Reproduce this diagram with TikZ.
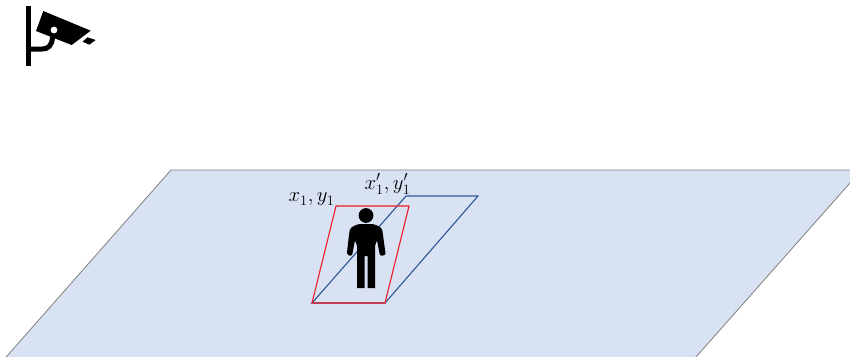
\documentclass[tikz,border=0pt]{standalone}
\usepackage{amsmath}
\usepackage{tikz}
\definecolor{ground}{HTML}{D9E2F3}
\definecolor{edge}{HTML}{7F7F7F}
\definecolor{boxred}{HTML}{EE1C25}
\definecolor{boxblue}{HTML}{2F5597}

\begin{document}
\begin{tikzpicture}[x=1pt,y=-1pt,
 plane/.style={fill=ground,draw=edge,line width=.8pt},
 quad/.style={line width=1.1pt,line join=miter},
 lab/.style={inner sep=0pt,font=\fontsize{22}{24}\selectfont},
 solid black/.style={fill=black,draw=none}]
 \useasboundingbox (0,0) rectangle (850,356);
 \clip (0,0) rectangle (850,356);
 \draw[plane] (171,170)--(861.5,170)--(688,366)--(-1.8,366)--cycle;
 \draw[quad,draw=boxblue] (312,303)--(385,303)--(478,196)--(406,196)--cycle;
 \draw[quad,draw=boxred] (336,206)--(409,206)--(385,303)--(312,303)--cycle;
 \node[lab] (lower) at (311.5,199.5) {$x_1,y_1$};
 \node[lab] (upper) at (387.5,184) {$x_1',y_1'$};
 \fill[solid black] (366,215.5) circle (7.4);
 \fill[solid black] (357,288)--(357,246) [rounded corners=2pt] --(355,240)--(352,256)
 --(346.7,255)--(349,235)--(350,228)--(358,224)--(374,224)--(382,228)--(383,235)--(385.7,255)
 --(380,256)--(377,240)[sharp corners]--(375,246)--(375,288)--(367.5,288)--(367.5,256)--(364.5,256)
 --(364.5,288)--cycle;
 \fill[solid black] (26,6) rectangle (31,66);
 \draw[line width=5pt] (29,49)--(42,49) .. controls (48,49) and (52,46) .. (52.5,37);
 \fill[solid black] (43.3,11)--(90.7,30.7)--(71.7,45)--(36,31)--cycle;
 \fill[white] (54,30) circle (3.4);
 \fill[solid black] (87.3,37.3)--(95.7,40)--(89.3,44.7)--(82.7,41.7)--cycle;
\end{tikzpicture}
\end{document}
